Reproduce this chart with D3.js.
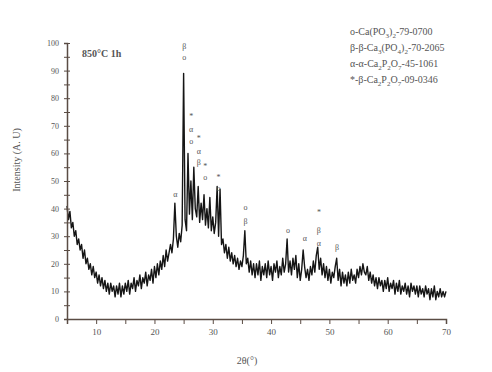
<!DOCTYPE html>
<html><head><meta charset="utf-8">
<script src="https://cdn.jsdelivr.net/npm/d3@7"></script>
<style>body{margin:0;background:#fff}svg{display:block}</style>
</head><body>
<svg id="c" width="492" height="372"></svg>
<script>
// ---- data ----
const startAngle = 5, stepAngle = 0.25;
const intensity = [
 41,36,39,33,35,30,32,27,29,
 25,27,22,25,20,22,18,20,
 16,19,15,17,13,16,12,15,
 11,14,10,13,9,13,10,12,
 8,12,9,13,8,12,9,13,
 10,14,9,13,11,15,10,14,
 12,16,11,15,13,17,12,16,
 14,18,13,19,15,20,16,21,
 18,23,19,25,21,24,27,24,
 29,42,30,26,31,28,34,89,
 36,32,60,38,50,36,55,40,
 37,48,35,42,36,45,34,40,
 33,44,32,37,31,35,48,30,
 47,27,29,24,27,22,26,21,
 24,20,23,19,22,18,21,19,
 23,32,20,22,17,21,16,20,
 15,20,16,21,14,19,16,20,
 15,21,16,19,14,20,17,21,
 15,19,16,22,17,20,29,17,
 21,16,22,18,23,15,20,14,
 18,25,19,15,18,14,19,16,
 21,17,23,26,18,22,16,20,
 15,19,14,18,13,17,15,19,
 22,14,18,12,17,13,16,12,
 17,13,18,14,16,13,18,15,
 19,16,20,17,16,19,14,17,
 13,16,12,15,11,15,12,14,
 10,14,11,15,10,13,11,14,
 9,13,10,14,9,12,10,13,
 9,12,8,13,10,12,9,12,
 8,12,9,11,8,12,9,11,
 7,11,8,12,7,10,8,11,
 8,10,8,10
];
const xTicks = [10,20,30,40,50,60,70];
const yTicks = [0,10,20,30,40,50,60,70,80,90,100];
// peak markers: [angle, level, symbol]
const markerAngle = [23.6, 25.1, 25.1, 26.3, 26.3, 26.3, 27.6, 27.6, 27.6, 28.7, 28.7, 31.0, 31.0, 35.6, 35.6, 42.9, 45.8, 48.2, 48.2, 48.2, 51.3];
const markerLevel = [45, 98.5, 94.5, 73, 68.5, 64, 65, 60.5, 56.5, 55, 51, 51, 47, 40, 35, 32, 29, 38.5, 32, 27, 25.7];
const markerSym   = ["α","β","o","*","α","o","*","α","β","*","o","*","o","o","β","o","α","*","β","α","β"];
const legendLines = [
  [["o-Ca(PO",0],["3",1],[")",0],["2",1],["-79-0700",0]],
  [["β-β-Ca",0],["3",1],["(PO",0],["4",1],[")",0],["2",1],["-70-2065",0]],
  [["α-α-Ca",0],["2",1],["P",0],["2",1],["O",0],["7",1],["-45-1061",0]],
  [["*-β-Ca",0],["2",1],["P",0],["2",1],["O",0],["7",1],["-09-0346",0]]
];
const titleText = "850°C 1h";
const xLabel = "2θ(°)";
const yLabel = "Intensity (A. U)";

// ---- drawing ----
const svg = d3.select("#c");
const font = "'Liberation Serif','DejaVu Serif',serif";
const axisCol = "#5a4c44", textCol = "#555";
const x = d3.scaleLinear().domain([5,70]).range([67,446]);
const y = d3.scaleLinear().domain([0,100]).range([319,43]);

const pts = intensity.map((v,i)=>[startAngle + i*stepAngle, v]);
svg.append("path").datum(pts)
  .attr("fill","none").attr("stroke","#151515").attr("stroke-width",1.4)
  .attr("stroke-linejoin","round")
  .attr("d", d3.line().x(d=>x(d[0])).y(d=>y(d[1])));

// x axis
const gx = svg.append("g").attr("transform",`translate(0,${y(0)})`);
gx.call(d3.axisBottom(x).tickValues(d3.range(5,71,5)).tickSize(5)
  .tickFormat(d=> xTicks.includes(d) ? d : ""));
gx.select(".domain").attr("stroke",axisCol).attr("stroke-width",1.5);
gx.selectAll(".tick line").attr("stroke",axisCol);
gx.selectAll(".tick text").attr("fill",textCol).attr("font-family",font).attr("font-size",9).attr("dy","0.85em");

// y axis
const gy = svg.append("g").attr("transform",`translate(${x(5)},0)`);
gy.call(d3.axisLeft(y).tickValues(d3.range(0,101,5)).tickSize(3)
  .tickFormat(d=> yTicks.includes(d) ? d : ""));
gy.select(".domain").attr("stroke",axisCol).attr("stroke-width",1.5);
gy.selectAll(".tick line").attr("stroke",axisCol).attr("x2",3).attr("x1",-3);
gy.selectAll(".tick text").attr("fill",textCol).attr("font-family",font).attr("font-size",8).attr("x",-8);

// markers
markerAngle.forEach((a,i)=>{
  svg.append("text").attr("x",x(a)).attr("y",y(markerLevel[i]))
    .attr("text-anchor","middle").attr("dominant-baseline","middle")
    .attr("font-family",font).attr("font-size",8).attr("fill","#555")
    .text(markerSym[i]);
});

// title
svg.append("text").attr("x",82).attr("y",57).attr("font-family",font)
  .attr("font-size",10).attr("font-weight","bold").attr("fill","#555").text(titleText);

// legend
legendLines.forEach((line,i)=>{
  const t = svg.append("text").attr("x",350).attr("y",35+i*16)
    .attr("font-family",font).attr("font-size",10).attr("fill","#555");
  let prevSub = 0;
  line.forEach(([s,sub])=>{
    const ts = t.append("tspan").text(s);
    if(sub){ ts.attr("font-size",7); }
    if(sub!==prevSub){ ts.attr("dy", sub ? 3 : -3); }
    prevSub = sub;
  });
});

// axis labels
svg.append("text").attr("x",247).attr("y",364).attr("text-anchor","middle")
  .attr("font-family",font).attr("font-size",10).attr("fill",textCol).text(xLabel);
svg.append("text").attr("transform","translate(20,160) rotate(-90)").attr("text-anchor","middle")
  .attr("font-family",font).attr("font-size",10).attr("fill",textCol).text(yLabel);
</script>
</body></html>
